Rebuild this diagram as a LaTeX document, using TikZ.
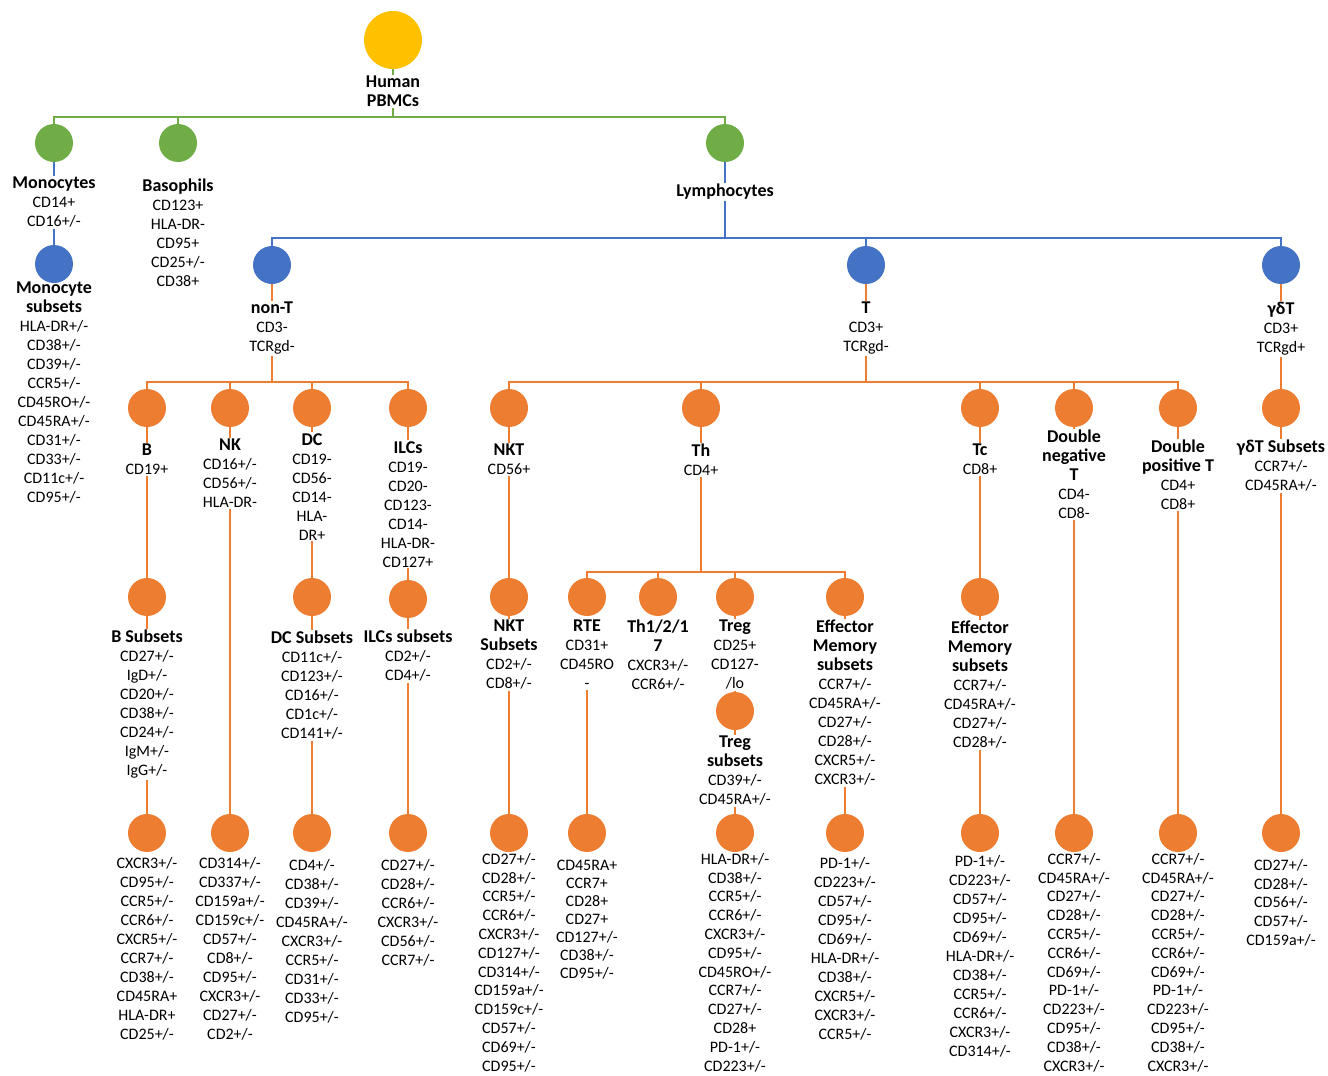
\documentclass[tikz,border=0pt]{standalone}
\usepackage{fontspec}
\setmainfont{Carlito}
\definecolor{pyellow}{HTML}{FFC000}
\definecolor{pgreen}{HTML}{70AD47}
\definecolor{pblue}{HTML}{4472C4}
\definecolor{porange}{HTML}{ED7D31}
\newcommand{\celltitle}[1]{{\fontsize{18}{19}\selectfont\bfseries #1}}
\begin{document}
\begin{tikzpicture}[x=1pt,y=-1pt,
    cell/.style={circle,fill=#1,minimum size=38pt,inner sep=0pt},
    lab/.style={anchor=north,align=center,inner sep=1pt,font=\fontsize{16}{19}\selectfont},
    gline/.style={draw=pgreen,line width=2pt},
    bline/.style={draw=pblue,line width=2pt},
    oline/.style={draw=porange,line width=2pt}]
            \useasboundingbox (0,0) rectangle (1328,1076);
            \coordinate (gbus) at (0,117);
            \coordinate (bbus) at (0,238);
            \coordinate (obus) at (0,382);
            \coordinate (thbus) at (0,572);
            % root
            \node[cell=pyellow,minimum size=58pt] (pbmc) at (393,40) {};
            \node[lab] (pbmclab) at (393,75) {\celltitle{Human}\\\celltitle{PBMCs}};
            \node[cell=pgreen] (mono) at (54,143) {};
            \node[cell=pgreen] (baso) at (178,143) {};
            \node[cell=pgreen] (lymph) at (725,143) {};
            \node[lab] (monolab) at (54,176) {\celltitle{Monocytes}\\CD14+\\CD16+/-};
            \node[lab] (basolab) at (178,178) {\celltitle{Basophils}\\CD123+\\HLA-DR-\\CD95+\\CD25+/-\\CD38+};
            \node[lab] (lymphlab) at (725,183) {\celltitle{Lymphocytes}};
            \node[cell=pblue] (monosub) at (54,264) {};
            \node[lab] (monosublab) at (54,281) {\celltitle{Monocyte}\\\celltitle{subsets}\\HLA-DR+/-\\CD38+/-\\CD39+/-\\CCR5+/-\\CD45RO+/-\\CD45RA+/-\\CD31+/-\\CD33+/-\\CD11c+/-\\CD95+/-};
            % lymphocyte branches
            \node[cell=pblue] (nont) at (272,265) {};
            \node[cell=pblue] (tcell) at (866,265) {};
            \node[cell=pblue] (gdt) at (1281,265) {};
            \node[lab] (nontlab) at (272,301) {\celltitle{non-T}\\CD3-\\TCRgd-};
            \node[lab] (tlab) at (866,301) {\celltitle{T}\\CD3+\\TCRgd-};
            \node[lab] (gdtlab) at (1281,301) {\celltitle{γδT}\\CD3+\\TCRgd+};
            % first orange row
            \node[cell=porange] (b) at (147,408) {};
            \node[cell=porange] (nk) at (230,408) {};
            \node[cell=porange] (dc) at (312,408) {};
            \node[cell=porange] (ilc) at (408,408) {};
            \node[cell=porange] (nkt) at (509,408) {};
            \node[cell=porange] (th) at (701,408) {};
            \node[cell=porange] (tc) at (980,408) {};
            \node[cell=porange] (dn) at (1074,408) {};
            \node[cell=porange] (dp) at (1178,408) {};
            \node[cell=porange] (gdts) at (1281,408) {};
            \node[lab] (blab) at (147,443) {\celltitle{B}\\CD19+};
            \node[lab] (nklab) at (230,438) {\celltitle{NK}\\CD16+/-\\CD56+/-\\HLA-DR-};
            \node[lab] (dclab) at (312,432) {\celltitle{DC}\\CD19-\\CD56-\\CD14-\\HLA-\\DR+};
            \node[lab] (ilclab) at (408,440) {\celltitle{ILCs}\\CD19-\\CD20-\\CD123-\\CD14-\\HLA-DR-\\CD127+};
            \node[lab] (nktlab) at (509,443) {\celltitle{NKT}\\CD56+};
            \node[lab] (thlab) at (701,443) {\celltitle{Th}\\CD4+};
            \node[lab] (tclab) at (980,443) {\celltitle{Tc}\\CD8+};
            \node[lab] (dnlab) at (1074,429) {\celltitle{Double}\\\celltitle{negative}\\\celltitle{T}\\CD4-\\CD8-};
            \node[lab] (dplab) at (1178,439) {\celltitle{Double}\\\celltitle{positive T}\\CD4+\\CD8+};
            \node[lab] (gdtslab) at (1281,439) {\celltitle{γδT Subsets}\\CCR7+/-\\CD45RA+/-};
            % second orange row
            \node[cell=porange] (bsub) at (147,597) {};
            \node[cell=porange] (dcsub) at (312,597) {};
            \node[cell=porange] (ilcsub) at (408,599) {};
            \node[cell=porange] (nktsub) at (509,597) {};
            \node[cell=porange] (rte) at (587,597) {};
            \node[cell=porange] (th17) at (658,597) {};
            \node[cell=porange] (treg) at (735,597) {};
            \node[cell=porange] (them) at (845,597) {};
            \node[cell=porange] (tcem) at (980,597) {};
            \node[lab] (bsublab) at (147,629) {\celltitle{B Subsets}\\CD27+/-\\IgD+/-\\CD20+/-\\CD38+/-\\CD24+/-\\IgM+/-\\IgG+/-};
            \node[lab] (dcsublab) at (312,630) {\celltitle{DC Subsets}\\CD11c+/-\\CD123+/-\\CD16+/-\\CD1c+/-\\CD141+/-};
            \node[lab] (ilcsublab) at (408,629) {\celltitle{ILCs subsets}\\CD2+/-\\CD4+/-};
            \node[lab] (nktsublab) at (509,619) {\celltitle{NKT}\\\celltitle{Subsets}\\CD2+/-\\CD8+/-};
            \node[lab] (rtelab) at (587,619) {\celltitle{RTE}\\CD31+\\CD45RO\\-};
            \node[lab] (th17lab) at (658,619) {\celltitle{Th1/2/1}\\\celltitle{7}\\CXCR3+/-\\CCR6+/-};
            \node[lab] (treglab) at (735,619) {\celltitle{Treg}\\CD25+\\CD127-\\/lo};
            \node[cell=porange] (tregsub) at (735,711) {};
            \node[lab] (tregsublab) at (735,735) {\celltitle{Treg}\\\celltitle{subsets}\\CD39+/-\\CD45RA+/-};
            \node[lab] (themlab) at (845,619) {\celltitle{Effector}\\\celltitle{Memory}\\\celltitle{subsets}\\CCR7+/-\\CD45RA+/-\\CD27+/-\\CD28+/-\\CXCR5+/-\\CXCR3+/-};
            \node[lab] (tcemlab) at (980,620) {\celltitle{Effector}\\\celltitle{Memory}\\\celltitle{subsets}\\CCR7+/-\\CD45RA+/-\\CD27+/-\\CD28+/-};
            % bottom row
            \node[cell=porange] (bfin) at (147,833) {};
            \node[cell=porange] (nkfin) at (230,833) {};
            \node[cell=porange] (dcfin) at (312,833) {};
            \node[cell=porange] (ilcfin) at (408,833) {};
            \node[cell=porange] (nktfin) at (509,833) {};
            \node[cell=porange] (rtefin) at (587,833) {};
            \node[cell=porange] (tregfin) at (735,833) {};
            \node[cell=porange] (themfin) at (845,833) {};
            \node[cell=porange] (tcemfin) at (980,833) {};
            \node[cell=porange] (dnfin) at (1074,833) {};
            \node[cell=porange] (dpfin) at (1178,833) {};
            \node[cell=porange] (gdtfin) at (1281,833) {};
            \node[lab] (bfinlab) at (147,856) {CXCR3+/-\\CD95+/-\\CCR5+/-\\CCR6+/-\\CXCR5+/-\\CCR7+/-\\CD38+/-\\CD45RA+\\HLA-DR+\\CD25+/-};
            \node[lab] (nkfinlab) at (230,856) {CD314+/-\\CD337+/-\\CD159a+/-\\CD159c+/-\\CD57+/-\\CD8+/-\\CD95+/-\\CXCR3+/-\\CD27+/-\\CD2+/-};
            \node[lab] (dcfinlab) at (312,858) {CD4+/-\\CD38+/-\\CD39+/-\\CD45RA+/-\\CXCR3+/-\\CCR5+/-\\CD31+/-\\CD33+/-\\CD95+/-};
            \node[lab] (ilcfinlab) at (408,858) {CD27+/-\\CD28+/-\\CCR6+/-\\CXCR3+/-\\CD56+/-\\CCR7+/-};
            \node[lab,font=\fontsize{16}{18.8}\selectfont] (nktfinlab) at (509,852) {CD27+/-\\CD28+/-\\CCR5+/-\\CCR6+/-\\CXCR3+/-\\CD127+/-\\CD314+/-\\CD159a+/-\\CD159c+/-\\CD57+/-\\CD69+/-\\CD95+/-};
            \node[lab,font=\fontsize{16}{18}\selectfont] (rtefinlab) at (587,859) {CD45RA+\\CCR7+\\CD28+\\CD27+\\CD127+/-\\CD38+/-\\CD95+/-};
            \node[lab,font=\fontsize{16}{18.8}\selectfont] (tregfinlab) at (735,852) {HLA-DR+/-\\CD38+/-\\CCR5+/-\\CCR6+/-\\CXCR3+/-\\CD95+/-\\CD45RO+/-\\CCR7+/-\\CD27+/-\\CD28+\\PD-1+/-\\CD223+/-};
            \node[lab] (themfinlab) at (845,856) {PD-1+/-\\CD223+/-\\CD57+/-\\CD95+/-\\CD69+/-\\HLA-DR+/-\\CD38+/-\\CXCR5+/-\\CXCR3+/-\\CCR5+/-};
            \node[lab] (tcemfinlab) at (980,854) {PD-1+/-\\CD223+/-\\CD57+/-\\CD95+/-\\CD69+/-\\HLA-DR+/-\\CD38+/-\\CCR5+/-\\CCR6+/-\\CXCR3+/-\\CD314+/-};
            \node[lab,font=\fontsize{16}{18.8}\selectfont] (dnfinlab) at (1074,852) {CCR7+/-\\CD45RA+/-\\CD27+/-\\CD28+/-\\CCR5+/-\\CCR6+/-\\CD69+/-\\PD-1+/-\\CD223+/-\\CD95+/-\\CD38+/-\\CXCR3+/-};
            \node[lab,font=\fontsize{16}{18.8}\selectfont] (dpfinlab) at (1178,852) {CCR7+/-\\CD45RA+/-\\CD27+/-\\CD28+/-\\CCR5+/-\\CCR6+/-\\CD69+/-\\PD-1+/-\\CD223+/-\\CD95+/-\\CD38+/-\\CXCR3+/-};
            \node[lab,font=\fontsize{16}{18.75}\selectfont] (gdtfinlab) at (1281,858) {CD27+/-\\CD28+/-\\CD56+/-\\CD57+/-\\CD159a+/-};
            % green links
            \draw[gline] (pbmc.south) -- (pbmclab.north);
            \draw[gline] (pbmclab.south) -- (pbmclab.south |- gbus) -| (mono.north);
            \draw[gline] (pbmclab.south |- gbus) -| (baso.north);
            \draw[gline] (pbmclab.south |- gbus) -| (lymph.north);
            % blue links
            \draw[bline] (mono.south) -- (monolab.north);
            \draw[bline] (monolab.south) -- (monosub.north);
            \draw[bline] (lymph.south) -- (lymphlab.north);
            \draw[bline] (lymphlab.south) -- (lymphlab.south |- bbus) -| (nont.north);
            \draw[bline] (lymphlab.south |- bbus) -| (tcell.north);
            \draw[bline] (lymphlab.south |- bbus) -| (gdt.north);
            % orange links
            \draw[oline] (nont.south) -- (nontlab.north);
            \draw[oline] (tcell.south) -- (tlab.north);
            \draw[oline] (gdt.south) -- (gdtlab.north);
            \draw[oline] (gdtlab.south) -- (gdts.north);
            \foreach \kid in {b,nk,dc,ilc}
                \draw[oline] (nontlab.south) -- (nontlab.south |- obus) -| (\kid.north);
            \foreach \kid in {nkt,th,tc,dn,dp}
                \draw[oline] (tlab.south) -- (tlab.south |- obus) -| (\kid.north);
            \foreach \kid in {b,nk,dc,ilc,nkt,th,tc,dn,dp,gdts,bsub,dcsub,ilcsub,nktsub,treg,them,tcem,tregsub}
                \draw[oline] (\kid.south) -- (\kid lab.north);
            \foreach \kid in {rte,th17,treg,them}
                \draw[oline] (thlab.south) -- (thlab.south |- thbus) -| (\kid.north);
            \draw[oline] (blab.south) -- (bsub.north);
            \draw[oline] (dclab.south) -- (dcsub.north);
            \draw[oline] (ilclab.south) -- (ilcsub.north);
            \draw[oline] (nktlab.south) -- (nktsub.north);
            \draw[oline] (tclab.south) -- (tcem.north);
            \draw[oline] (treglab.south) -- (tregsub.north);
            \draw[oline] (nklab.south) -- (nkfin.north);
            \draw[oline] (bsublab.south) -- (bfin.north);
            \draw[oline] (dcsublab.south) -- (dcfin.north);
            \draw[oline] (ilcsublab.south) -- (ilcfin.north);
            \draw[oline] (nktsublab.south) -- (nktfin.north);
            \draw[oline] (rtelab.south) -- (rtefin.north);
            \draw[oline] (tregsublab.south) -- (tregfin.north);
            \draw[oline] (themlab.south) -- (themfin.north);
            \draw[oline] (tcemlab.south) -- (tcemfin.north);
            \draw[oline] (dnlab.south) -- (dnfin.north);
            \draw[oline] (dplab.south) -- (dpfin.north);
            \draw[oline] (gdtslab.south) -- (gdtfin.north);
        \end{tikzpicture}
\end{document}
